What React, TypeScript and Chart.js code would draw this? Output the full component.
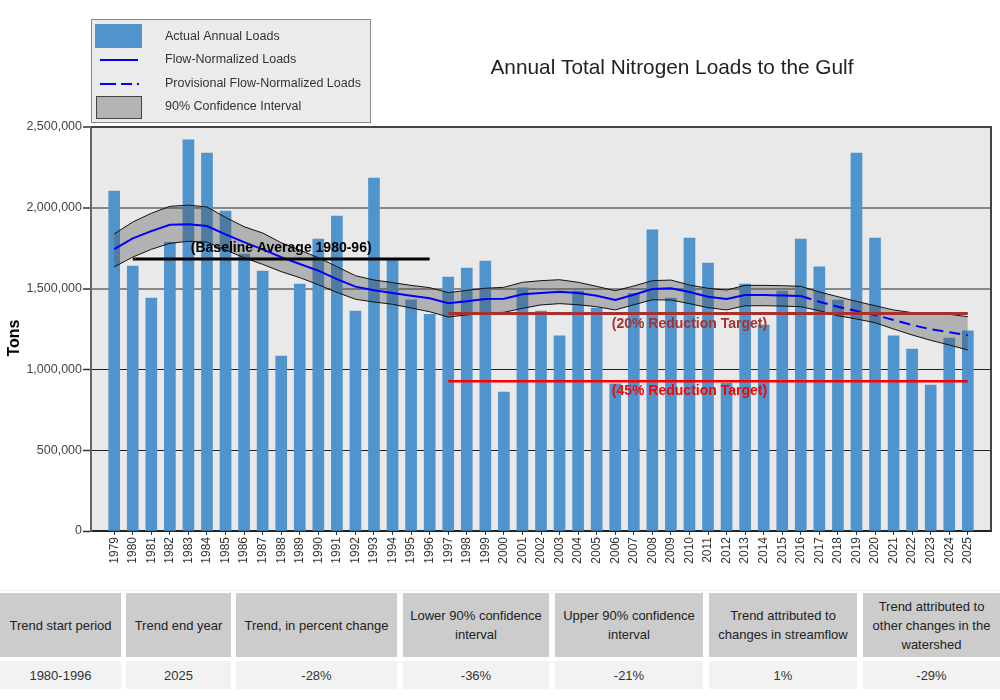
import React, { useEffect, useRef } from "react";
import { Chart, registerables } from "chart.js";

Chart.register(...registerables);

const years = [
  1979, 1980, 1981, 1982, 1983, 1984, 1985, 1986, 1987, 1988,
  1989, 1990, 1991, 1992, 1993, 1994, 1995, 1996, 1997, 1998,
  1999, 2000, 2001, 2002, 2003, 2004, 2005, 2006, 2007, 2008,
  2009, 2010, 2011, 2012, 2013, 2014, 2015, 2016, 2017, 2018,
  2019, 2020, 2021, 2022, 2023, 2024, 2025,
];

const annualLoads = [
  2104000, 1640000, 1442000, 1786000, 2420000, 2339000, 1980000, 1714000, 1609000, 1083000,
  1528000, 1807000, 1949000, 1361000, 2184000, 1677000, 1431000, 1341000, 1572000, 1627000,
  1671000, 860000, 1504000, 1361000, 1207000, 1485000, 1380000, 910000, 1470000, 1863000,
  1442000, 1813000, 1658000, 915000, 1528000, 1275000, 1485000, 1807000, 1634000, 1429000,
  2339000, 1813000, 1207000, 1126000, 903000, 1194000, 1238000,
];

const flowYears = [
  1979, 1980, 1981, 1982, 1983, 1984, 1985, 1986, 1987, 1988,
  1989, 1990, 1991, 1992, 1993, 1994, 1995, 1996, 1997, 1998,
  1999, 2000, 2001, 2002, 2003, 2004, 2005, 2006, 2007, 2008,
  2009, 2010, 2011, 2012, 2013, 2014, 2015, 2016,
];
const flowNormalized = [
  1745000, 1811000, 1856000, 1895000, 1898000, 1887000, 1836000, 1788000, 1743000, 1695000,
  1652000, 1611000, 1559000, 1512000, 1490000, 1473000, 1456000, 1440000, 1409000, 1421000,
  1436000, 1437000, 1465000, 1473000, 1481000, 1473000, 1456000, 1429000, 1462000, 1497000,
  1502000, 1479000, 1450000, 1436000, 1460000, 1460000, 1458000, 1454000,
];

const provisionalYears = [2016, 2017, 2018, 2019, 2020, 2021, 2022, 2023, 2024, 2025];
const provisionalFlowNormalized = [
  1454000, 1419000, 1388000, 1361000, 1337000, 1306000, 1275000, 1248000, 1230000, 1211000,
];

const ciUpper = [
  1838000, 1912000, 1966000, 2009000, 2017000, 2005000, 1941000, 1883000, 1844000, 1784000,
  1739000, 1691000, 1636000, 1580000, 1553000, 1537000, 1520000, 1506000, 1475000, 1489000,
  1502000, 1508000, 1539000, 1549000, 1555000, 1539000, 1514000, 1487000, 1516000, 1549000,
  1553000, 1522000, 1502000, 1491000, 1520000, 1520000, 1518000, 1514000, 1479000, 1450000,
  1421000, 1394000, 1368000, 1351000, 1347000, 1341000, 1326000,
];
const ciLower = [
  1634000, 1695000, 1743000, 1780000, 1793000, 1788000, 1739000, 1691000, 1650000, 1605000,
  1568000, 1524000, 1477000, 1434000, 1417000, 1403000, 1380000, 1357000, 1324000, 1337000,
  1349000, 1353000, 1378000, 1399000, 1407000, 1400000, 1388000, 1368000, 1400000, 1431000,
  1429000, 1407000, 1382000, 1368000, 1394000, 1394000, 1392000, 1388000, 1363000, 1332000,
  1312000, 1289000, 1250000, 1213000, 1180000, 1151000, 1120000,
];

const baselineAverage = 1683000;
const baselineYears = [1980, 1996];
const target20 = 1346000;
const target45 = 926000;
const targetYears = [1997, 2025];

const yTicks = [0, 500000, 1000000, 1500000, 2000000, 2500000];

const tableHeaders = [
  ["Trend start period"],
  ["Trend end year"],
  ["Trend, in percent change"],
  ["Lower 90% confidence", "interval"],
  ["Upper 90% confidence", "interval"],
  ["Trend attributed to", "changes in streamflow"],
  ["Trend attributed to", "other changes in the", "watershed"],
];
const tableValues = ["1980-1996", "2025", "-28%", "-36%", "-21%", "1%", "-29%"];
const tableCols = [
  [0, 121],
  [126, 231],
  [236, 397],
  [403, 549],
  [555, 703],
  [709, 857],
  [863, 1000],
];

const FONT = "'Liberation Sans', Arial, Helvetica, sans-serif";

const decorPlugin = {
  id: "decor",
  beforeDraw(chart: any) {
    const { ctx, chartArea } = chart;
    ctx.save();
    ctx.fillStyle = "#e9e9e9";
    ctx.fillRect(chartArea.left, chartArea.top, chartArea.right - chartArea.left, chartArea.bottom - chartArea.top);
    ctx.restore();
  },
  afterDatasetsDraw(chart: any) {
    const { ctx, scales } = chart;
    const xs = scales.x;
    const ys = scales.y;
    ctx.save();
    ctx.textAlign = "center";
    ctx.textBaseline = "middle";
    ctx.font = `bold 14px ${FONT}`;
    ctx.fillStyle = "#000";
    ctx.fillText("(Baseline Average 1980-96)", xs.getPixelForValue(1988), ys.getPixelForValue(1750000));
    ctx.fillStyle = "#a83030";
    ctx.fillText("(20% Reduction Target)", xs.getPixelForValue(2010), ys.getPixelForValue(1281000));
    ctx.fillStyle = "#ff0000";
    ctx.fillText("(45% Reduction Target)", xs.getPixelForValue(2010), ys.getPixelForValue(866000));
    ctx.restore();
  },
  afterDraw(chart: any) {
    const { ctx, chartArea } = chart;
    ctx.save();
    ctx.strokeStyle = "#444";
    ctx.lineWidth = 2;
    ctx.beginPath();
    ctx.moveTo(chartArea.left, chartArea.top);
    ctx.lineTo(chartArea.right, chartArea.top);
    ctx.lineTo(chartArea.right, chartArea.bottom);
    ctx.stroke();

    ctx.fillStyle = "#222";
    ctx.font = `20.8px ${FONT}`;
    ctx.textAlign = "center";
    ctx.textBaseline = "middle";
    ctx.fillText("Annual Total Nitrogen Loads to the Gulf", 672, 68);

    ctx.save();
    ctx.translate(15, 338);
    ctx.rotate(-Math.PI / 2);
    ctx.font = `bold 16px ${FONT}`;
    ctx.fillStyle = "#000";
    ctx.fillText("Tons", 0, 0);
    ctx.restore();

    ctx.fillStyle = "#ebebeb";
    ctx.fillRect(91, 19, 279, 103);
    ctx.strokeStyle = "#888";
    ctx.lineWidth = 1;
    ctx.strokeRect(91.5, 19.5, 279, 103);

    ctx.fillStyle = "#4f94cd";
    ctx.fillRect(95, 24, 47, 24);

    ctx.strokeStyle = "#0000ff";
    ctx.lineWidth = 2;
    ctx.beginPath();
    ctx.moveTo(100, 60);
    ctx.lineTo(138, 60);
    ctx.stroke();

    ctx.beginPath();
    ctx.moveTo(100, 84);
    ctx.lineTo(116, 84);
    ctx.moveTo(121, 84);
    ctx.lineTo(132, 84);
    ctx.moveTo(137, 84);
    ctx.lineTo(139, 84);
    ctx.stroke();

    ctx.fillStyle = "#b4b4b4";
    ctx.fillRect(96, 96, 46, 22);
    ctx.strokeStyle = "#444";
    ctx.lineWidth = 1;
    ctx.strokeRect(96.5, 96.5, 45, 22);

    ctx.fillStyle = "#333";
    ctx.font = `12.5px ${FONT}`;
    ctx.textAlign = "left";
    ctx.textBaseline = "middle";
    ctx.fillText("Actual Annual Loads", 165, 37);
    ctx.fillText("Flow-Normalized Loads", 165, 60);
    ctx.fillText("Provisional Flow-Normalized Loads", 165, 84);
    ctx.fillText("90% Confidence Interval", 165, 107);
    ctx.restore();
  },
};

export default function App() {
  const canvasRef = useRef<HTMLCanvasElement | null>(null);

  useEffect(() => {
    if (!canvasRef.current) return;
    const chart = new Chart(canvasRef.current, {
      type: "bar",
      data: {
        datasets: [
          {
            type: "bar",
            label: "Actual Annual Loads",
            data: years.map((y, i) => ({ x: y, y: annualLoads[i] })),
            backgroundColor: "#4f94cd",
            barThickness: 11,
            order: 10,
          } as any,
          {
            type: "line",
            label: "CI upper",
            data: years.map((y, i) => ({ x: y, y: ciUpper[i] })),
            borderColor: "#111",
            borderWidth: 1,
            pointRadius: 0,
            fill: "+1",
            backgroundColor: "rgba(80,80,80,0.36)",
            tension: 0,
            order: 5,
          },
          {
            type: "line",
            label: "CI lower",
            data: years.map((y, i) => ({ x: y, y: ciLower[i] })),
            borderColor: "#111",
            borderWidth: 1,
            pointRadius: 0,
            fill: false,
            tension: 0,
            order: 4,
          },
          {
            type: "line",
            label: "Flow-Normalized Loads",
            data: flowYears.map((y, i) => ({ x: y, y: flowNormalized[i] })),
            borderColor: "#0000ff",
            borderWidth: 2,
            pointRadius: 0,
            fill: false,
            order: 2,
          },
          {
            type: "line",
            label: "Provisional Flow-Normalized Loads",
            data: provisionalYears.map((y, i) => ({ x: y, y: provisionalFlowNormalized[i] })),
            borderColor: "#0000ff",
            borderWidth: 2,
            borderDash: [11, 6],
            pointRadius: 0,
            fill: false,
            order: 2,
          },
          {
            type: "line",
            label: "Baseline",
            data: baselineYears.map((y) => ({ x: y, y: baselineAverage })),
            borderColor: "#000",
            borderWidth: 3,
            pointRadius: 0,
            fill: false,
            order: 1,
          },
          {
            type: "line",
            label: "20%",
            data: targetYears.map((y) => ({ x: y, y: target20 })),
            borderColor: "#a83030",
            borderWidth: 3,
            pointRadius: 0,
            fill: false,
            order: 1,
          },
          {
            type: "line",
            label: "45%",
            data: targetYears.map((y) => ({ x: y, y: target45 })),
            borderColor: "#ff0000",
            borderWidth: 2.5,
            pointRadius: 0,
            fill: false,
            order: 1,
          },
        ],
      },
      options: {
        responsive: false,
        animation: false,
        devicePixelRatio: 1,
        layout: { padding: { top: 127, right: 9, left: 0, bottom: 0 } },
        plugins: {
          legend: { display: false },
          tooltip: { enabled: false },
          title: { display: false },
        },
        scales: {
          x: {
            type: "linear",
            offset: false,
            min: 1977.75,
            max: 2026.25,
            afterBuildTicks: (scale: any) => {
              scale.ticks = years.map((v) => ({ value: v }));
            },
            afterFit: (scale: any) => {
              scale.height = 49;
            },
            ticks: {
              autoSkip: false,
              minRotation: 90,
              maxRotation: 90,
              padding: 2,
              color: "#333",
              font: { family: FONT, size: 12 },
              callback: (v: any) => String(v),
            },
            grid: {
              offset: false,
              drawOnChartArea: false,
              drawTicks: true,
              tickLength: 4,
              tickColor: "#333",
              tickWidth: 1,
            },
            border: { color: "#222", width: 2 },
          },
          y: {
            min: 0,
            max: 2500000,
            afterBuildTicks: (scale: any) => {
              scale.ticks = yTicks.map((v) => ({ value: v }));
            },
            afterFit: (scale: any) => {
              scale.width = 91;
            },
            ticks: {
              padding: 1,
              color: "#444",
              font: { family: FONT, size: 12.5 },
              callback: (v: any) => Number(v).toLocaleString("en-US"),
            },
            grid: {
              color: (c: any) => (c.tick && c.tick.value >= 1500000 ? "#888" : "#222"),
              lineWidth: (c: any) => (c.tick && c.tick.value >= 1500000 ? 2 : 1),
              tickLength: 8,
              tickColor: "#333",
              tickWidth: 1.5,
            },
            border: { color: "#666", width: 2 },
          },
        },
      } as any,
      plugins: [decorPlugin],
    });
    return () => chart.destroy();
  }, []);

  return (
    <div style={{ position: "absolute", left: 0, top: 0, width: 1000, height: 700, background: "#fff", fontFamily: FONT }}>
      <canvas ref={canvasRef} width={1000} height={580} style={{ position: "absolute", left: 0, top: 0, width: 1000, height: 580 }} />
      <div style={{ position: "absolute", left: 0, top: 590, width: 1000, height: 1, background: "#eeeeee" }} />
      {tableCols.map(([l, r], i) => (
        <div
          key={"h" + i}
          style={{
            position: "absolute",
            left: l,
            top: 593,
            width: r - l,
            height: 64,
            background: "#cccccc",
            display: "flex",
            flexDirection: "column",
            alignItems: "center",
            justifyContent: "center",
            fontSize: 13,
            lineHeight: "19px",
            color: "#222",
            textAlign: "center",
          }}
        >
          {tableHeaders[i].map((t, j) => (
            <div key={j}>{t}</div>
          ))}
        </div>
      ))}
      {tableCols.map(([l, r], i) => (
        <div
          key={"v" + i}
          style={{
            position: "absolute",
            left: l,
            top: 661,
            width: r - l,
            height: 28,
            background: "#f2f2f2",
            display: "flex",
            alignItems: "center",
            justifyContent: "center",
            fontSize: 13,
            color: "#333",
          }}
        >
          {tableValues[i]}
        </div>
      ))}
    </div>
  );
}
